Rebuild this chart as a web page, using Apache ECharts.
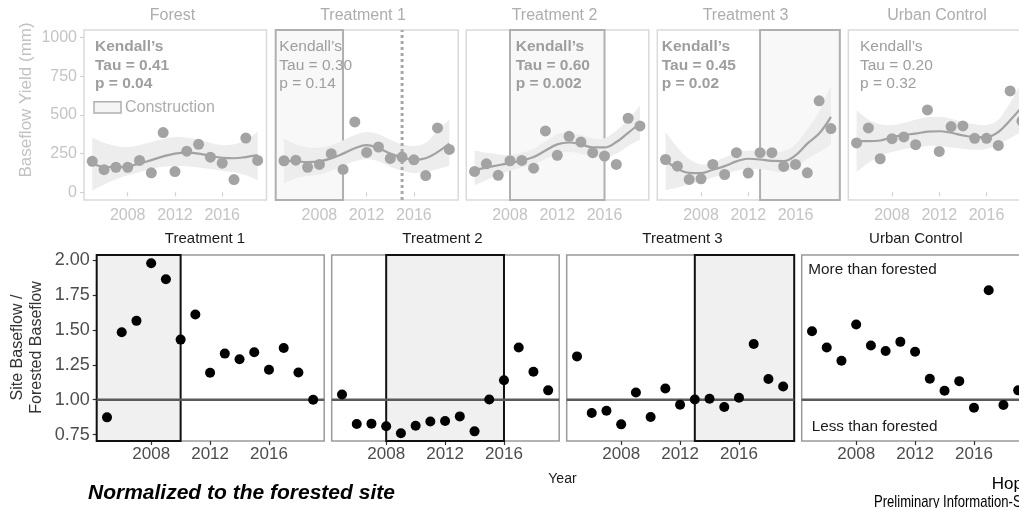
<!DOCTYPE html>
<html><head><meta charset="utf-8">
<script src="https://cdn.jsdelivr.net/npm/echarts@6/dist/echarts.min.js"></script>
<style>html,body{margin:0;padding:0;background:#fff;overflow:hidden}#c{width:1019px;height:508px}</style>
</head><body><div id="c"></div>
<script>
// ---------- DATA ----------
const years = [2005,2006,2007,2008,2009,2010,2011,2012,2013,2014,2015,2016,2017,2018,2019];
const tickYears = [2008,2012,2016];
const topTitles = ['Forest','Treatment 1','Treatment 2','Treatment 3','Urban Control'];
const bottomTitles = ['Treatment 1','Treatment 2','Treatment 3','Urban Control'];
const yieldTicks = [0,250,500,750,1000];
const ratioTicks = [0.75,1.00,1.25,1.50,1.75,2.00];

// Baseflow yield (mm)
const forestYield = [200,146,162,162,206,126,386,134,266,310,227,188,82,351,206];
const t1Yield     = [204,208,162,180,250,148,455,258,293,219,228,210,108,416,277];
const t2Yield     = [135,184,110,204,206,156,397,239,362,325,256,234,180,479,429];
const t3Yield     = [212,169,83,87,180,115,256,124,256,256,167,180,126,592,412];
const urbanYield  = [319,416,217,347,358,308,533,264,425,429,349,349,303,656,460];

// Smoothed fit and its confidence band
const forestFit   = [185,165,162,168,185,208,232,250,256,250,235,223,220,228,240];
const forestLower = [10,50,85,110,130,150,165,170,168,160,150,140,130,110,80];
const forestUpper = [355,320,300,293,305,325,345,358,355,340,320,305,310,340,390];
const t1Fit       = [205,200,195,200,220,250,285,305,285,250,225,210,220,260,315];
const t1Lower     = [55,90,105,115,140,170,200,215,200,165,140,125,130,150,170];
const t1Upper     = [350,310,290,290,305,335,370,390,375,340,310,300,320,400,470];
const t2Fit       = [145,160,175,190,205,228,270,310,322,310,290,290,325,385,445];
const t2Lower     = [45,80,110,140,160,180,215,250,260,250,230,225,250,300,340];
const t2Upper     = [270,255,245,240,255,280,330,375,385,370,350,350,400,470,560];
const t3Fit       = [206,152,126,124,146,169,200,217,212,203,202,239,315,380,488];
const t3Lower     = [15,30,50,70,95,115,140,150,150,140,130,160,215,260,310];
const t3Upper     = [390,290,215,180,195,225,255,270,268,262,265,310,410,520,690];
const urbanFit    = [331,331,335,357,370,380,392,395,385,368,357,357,390,466,552];
const urbanLower  = [130,190,235,260,280,290,300,298,290,282,275,280,310,350,390];
const urbanUpper  = [530,470,440,435,450,470,485,488,475,455,440,435,470,580,720];

const tauValues = ['0.41','0.30','0.60','0.45','0.20'];
const pValues   = ['0.04','0.14','0.002','0.02','0.32'];
const significant = [true,false,true,true,false];

// Construction periods (null = axis edge)
const constructionTop = [null, [null,2010], [2008,2016], [2013,null], null];
const constructionBottom = [[null,2010], [2008,2016], [2013,null], null];
const t1MarkerYear = 2015;

// Site / forested baseflow ratio
const t1Ratio    = [0.874,1.483,1.564,1.976,1.862,1.43,1.61,1.193,1.33,1.29,1.34,1.214,1.37,1.195,1.0];
const t2Ratio    = [1.038,0.826,0.829,0.81,0.76,0.814,0.845,0.848,0.881,0.774,1.002,1.14,1.374,1.2,1.067];
const t3Ratio    = [1.31,0.905,0.921,0.824,1.052,0.876,1.081,0.964,1.002,1.007,0.948,1.014,1.398,1.148,1.095];
const urbanRatio = [1.49,1.374,1.279,1.538,1.388,1.348,1.414,1.343,1.15,1.064,1.133,0.943,1.783,0.962,1.067];
const refRatio = 1;

// ---------- LAYOUT ----------
const FONT = '"Liberation Sans", Arial, sans-serif';
const X_MIN = 2004.3, X_MAX = 2019.75;
const TOP_Y = [-50, 1050];
const BOT_Y = [0.705, 2.035];
const topLefts = [84, 275.7, 466.3, 657.3, 848.3];
const topW = 182.5, topT = 30, topH = 170;
const botLefts = [96.7, 331.7, 566.7, 801.7];
const botW = 227.5, botT = 255, botH = 186;

const topYields = [forestYield,t1Yield,t2Yield,t3Yield,urbanYield];
const topFits = [forestFit,t1Fit,t2Fit,t3Fit,urbanFit];
const topLowers = [forestLower,t1Lower,t2Lower,t3Lower,urbanLower];
const topUppers = [forestUpper,t1Upper,t2Upper,t3Upper,urbanUpper];
const ratios = [t1Ratio,t2Ratio,t3Ratio,urbanRatio];

function crPath(pts, move){
  let d = (move ? 'M' : 'L') + pts[0][0] + ' ' + pts[0][1];
  for (let i = 0; i < pts.length - 1; i++){
    const p0 = pts[i-1] || pts[i], p1 = pts[i], p2 = pts[i+1], p3 = pts[i+2] || pts[i+1];
    const c1x = p1[0] + (p2[0]-p0[0])/6, c1y = p1[1] + (p2[1]-p0[1])/6;
    const c2x = p2[0] - (p3[0]-p1[0])/6, c2y = p2[1] - (p3[1]-p1[1])/6;
    d += ' C' + c1x + ' ' + c1y + ' ' + c2x + ' ' + c2y + ' ' + p2[0] + ' ' + p2[1];
  }
  return d;
}

const grid = [], xAxis = [], yAxis = [], series = [];

function xAx(gi, lc, tc, size, margin){
  return {type:'value', gridIndex:gi, min:X_MIN, max:X_MAX, axisLine:{show:false}, splitLine:{show:false},
    axisTick:{show:true, customValues:tickYears, length:4, lineStyle:{color:tc, width:1.2}},
    axisLabel:{show:true, customValues:tickYears, color:lc, fontSize:size, fontFamily:FONT, margin:margin, formatter:v=>String(v)}};
}
function yAx(gi, range, ticks, show, lc, tc, size, fmt){
  return {type:'value', gridIndex:gi, min:range[0], max:range[1], axisLine:{show:false}, splitLine:{show:false},
    axisTick:{show:show, customValues:ticks, length:4, lineStyle:{color:tc, width:1.2}},
    axisLabel:{show:show, customValues:ticks, color:lc, fontSize:size, fontFamily:FONT, margin:7, formatter:fmt}};
}
function rectSeries(gi, period, yr, style){
  const x0 = period[0] == null ? X_MIN : period[0];
  const x1 = period[1] == null ? X_MAX : period[1];
  return {type:'custom', xAxisIndex:gi, yAxisIndex:gi, z:1, silent:true, clip:false,
    data:[[x0, yr[0], x1, yr[1]]], encode:{x:[0,2], y:[1,3]},
    renderItem:(p, api)=>{
      const a = api.coord([api.value(0), api.value(3)]);
      const b = api.coord([api.value(2), api.value(1)]);
      return {type:'rect', shape:{x:a[0], y:a[1], width:b[0]-a[0], height:b[1]-a[1]}, style:style};
    }};
}
function bandSeries(gi, lower, upper, color){
  return {type:'custom', xAxisIndex:gi, yAxisIndex:gi, z:2, silent:true, clip:true,
    data: years.map((y,k)=>[y, lower[k], upper[k]]), encode:{x:0, y:[1,2]},
    renderItem:(p, api)=>{
      if (p.dataIndex !== 0) return null;
      const up = years.map((y,k)=>api.coord([y, upper[k]]));
      const lo = years.map((y,k)=>api.coord([y, lower[k]])).reverse();
      return {type:'path', shape:{pathData: crPath(up,true) + ' ' + crPath(lo,false) + ' Z'}, style:{fill:color}};
    }};
}

// top row
topLefts.forEach((left, i)=>{
  grid.push({left:left, top:topT, width:topW, height:topH, show:true, borderColor:'#dadada', borderWidth:1.5,
    backgroundColor:'rgba(0,0,0,0)', containLabel:false, outerBoundsMode:'none'});
  xAxis.push(xAx(i, '#c4c4c4', '#d0d0d0', 16, 8));
  yAxis.push(yAx(i, TOP_Y, yieldTicks, i === 0, '#c4c4c4', '#d0d0d0', 16, v=>String(v)));
  if (constructionTop[i]) series.push(rectSeries(i, constructionTop[i], TOP_Y, {fill:'#f8f8f8', stroke:'#b0b0b0', lineWidth:2}));
  series.push(bandSeries(i, topLowers[i], topUppers[i], '#ededed'));
  if (i === 1) series.push({type:'line', xAxisIndex:i, yAxisIndex:i, z:3, silent:true, symbol:'none',
    data:[[t1MarkerYear, TOP_Y[0]], [t1MarkerYear, TOP_Y[1]]], lineStyle:{color:'#a8a8a8', width:3, type:[3,3]}});
  series.push({type:'line', xAxisIndex:i, yAxisIndex:i, z:4, silent:true, symbol:'none', smooth:0.4,
    data: years.map((y,k)=>[y, topFits[i][k]]), lineStyle:{color:'#a2a2a2', width:2.2}});
  series.push({type:'scatter', xAxisIndex:i, yAxisIndex:i, z:5, silent:true, symbolSize:11,
    data: years.map((y,k)=>[y, topYields[i][k]]), itemStyle:{color:'#a3a3a3', opacity:1}});
});

// bottom row
botLefts.forEach((left, j)=>{
  const gi = 5 + j;
  grid.push({left:left, top:botT, width:botW, height:botH, show:true, borderColor:'#9a9a9a', borderWidth:1.5,
    backgroundColor:'rgba(0,0,0,0)', containLabel:false, outerBoundsMode:'none'});
  xAxis.push(xAx(gi, '#4d4d4d', '#333333', 17, 5));
  yAxis.push(yAx(gi, BOT_Y, ratioTicks, j === 0, '#4d4d4d', '#333333', 18, v=>v.toFixed(2)));
  if (constructionBottom[j]) series.push(rectSeries(gi, constructionBottom[j], BOT_Y, {fill:'#f0f0f0', stroke:'#111', lineWidth:2}));
  series.push({type:'line', xAxisIndex:gi, yAxisIndex:gi, z:3, silent:true, symbol:'none',
    data:[[X_MIN, refRatio], [X_MAX, refRatio]], lineStyle:{color:'#5a5a5a', width:2.5}});
  series.push({type:'scatter', xAxisIndex:gi, yAxisIndex:gi, z:5, silent:true, symbolSize:10,
    data: years.map((y,k)=>[y, ratios[j][k]]), itemStyle:{color:'#000', opacity:1}});
});

// ---------- TEXT ----------
function txt(x, y, text, size, color, o){
  o = o || {};
  const el = {type:'text', x:x, y:y, silent:true, z:100,
    style:{text:text, fill:color,
      font:(o.italic?'italic ':'') + (o.bold?'bold ':'') + size + 'px ' + FONT,
      textAlign:o.align||'left', textVerticalAlign:'middle', align:o.align||'left', verticalAlign:'middle'}};
  if (o.rotation) el.rotation = o.rotation;
  if (o.scaleX) el.scaleX = o.scaleX;
  return el;
}
const graphic = [];
const topTitleX = [172.5, 363, 554.5, 745.5, 937];
topTitles.forEach((t,i)=>graphic.push(txt(topTitleX[i], 16, t, 16, '#adadad', {align:'center'})));
const botTitleX = [205, 442.5, 682.5, 915.8];
bottomTitles.forEach((t,j)=>graphic.push(txt(botTitleX[j], 239, t, 15, '#1a1a1a', {align:'center'})));
graphic.push(txt(26.7, 100, 'Baseflow Yield (mm)', 17, '#c2c2c2', {align:'center', rotation:Math.PI/2}));
graphic.push(txt(17.5, 347.5, 'Site Baseflow /', 16, '#333', {align:'center', rotation:Math.PI/2}));
graphic.push(txt(36.7, 347.5, 'Forested Baseflow', 16, '#333', {align:'center', rotation:Math.PI/2}));
const kendallX = [95, 279.3, 515.7, 661.7, 860];
tauValues.forEach((tau,i)=>{
  const o = {bold:significant[i]};
  graphic.push(txt(kendallX[i], 47, 'Kendall\u2019s', 15.5, '#9e9e9e', o));
  graphic.push(txt(kendallX[i], 65.5, 'Tau = ' + tau, 15.5, '#9e9e9e', o));
  graphic.push(txt(kendallX[i], 84, 'p = ' + pValues[i], 15.5, '#9e9e9e', o));
});
graphic.push({type:'rect', silent:true, z:100, shape:{x:94, y:101.7, width:27, height:11.3},
  style:{fill:'#f5f5f5', stroke:'#b0b0b0', lineWidth:1.5}});
graphic.push(txt(125, 107.5, 'Construction', 16, '#adadad'));
graphic.push(txt(808.3, 270, 'More than forested', 15.3, '#1a1a1a'));
graphic.push(txt(811.7, 426.7, 'Less than forested', 15.3, '#1a1a1a'));
graphic.push(txt(548.3, 479, 'Year', 14, '#1a1a1a'));
graphic.push(txt(88, 493, 'Normalized to the forested site', 21, '#000', {bold:true, italic:true}));
graphic.push(txt(991.7, 484, 'Hop', 17, '#000'));
graphic.push(txt(874, 502.5, 'Preliminary Information-S', 17, '#000', {scaleX:0.77}));

const chart = echarts.init(document.getElementById('c'), null, {renderer:'canvas'});
chart.setOption({animation:false, backgroundColor:'#fff', grid:grid, xAxis:xAxis, yAxis:yAxis, series:series, graphic:graphic});
</script>
</body></html>
